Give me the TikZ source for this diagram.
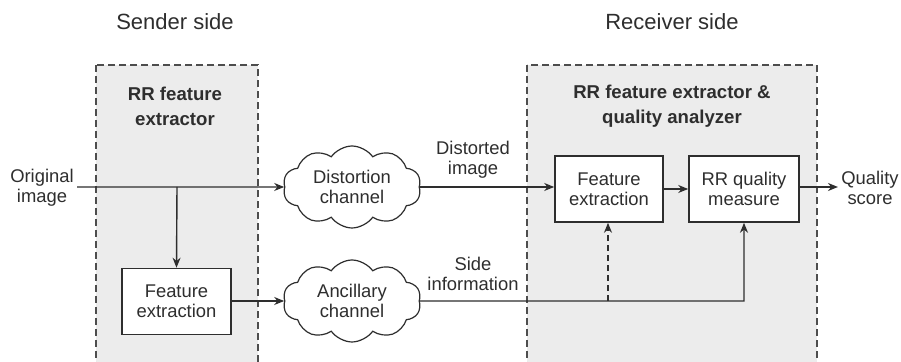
\documentclass[tikz,border=0pt]{standalone}
\usepackage{fontspec}
\setmainfont{Liberation Sans}
\usepackage{tikz}
\usetikzlibrary{arrows.meta,positioning,shapes.symbols}
\usepackage{xcolor}
\definecolor{inkgray}{HTML}{2E2E2E}
\definecolor{zonegray}{HTML}{ECECEC}

\begin{document}
\begin{tikzpicture}[x=0.5pt,y=-0.5pt,
	font=\fontsize{9.2}{10}\selectfont, color=inkgray,
	zone/.style={draw=inkgray!85,dashed,dash pattern=on 3.5pt off 2pt,fill=zonegray,line width=0.85pt},
	zonetitle/.style={align=center,font=\fontsize{9.3}{12.5}\selectfont\bfseries},
	sidetitle/.style={font=\fontsize{11}{13}\selectfont},
	block/.style={draw=inkgray,fill=white,line width=0.8pt,align=center,minimum height=33pt,inner sep=1pt},
	chan/.style={cloud,draw=inkgray,fill=white,cloud puffs=10,cloud puff arc=110,aspect=1.7,
		inner sep=0pt,minimum width=69pt,minimum height=41pt,align=center,line width=0.6pt},
	lbl/.style={align=center,inner sep=1.5pt},
	flow/.style={draw=inkgray,line width=0.7pt,-{Stealth[length=5pt,width=4pt]}}]
	\clip (0,0) rectangle (901,362);
	\fill[white] (0,0) rectangle (901,362);

	\draw[zone] (96,65) rectangle (258,380);
	\draw[zone] (527,65) rectangle (817,380);

	\node[sidetitle] (sendtitle) at (175,22) {Sender side};
	\node[sidetitle] (recvtitle) at (672,22) {Receiver side};
	\node[zonetitle] (sendzone) at (175,106) {RR feature\\extractor};
	\node[zonetitle] (recvzone) at (672,106) {RR feature extractor \&\\quality analyzer};

	\node[lbl] (orig) at (42,188) {Original\\image};
	\node[block,minimum width=54.5pt] (fesend) at (176.5,301.5) {Feature\\extraction};
	\node[chan] (dist) at (352,187) {Distortion\\channel};
	\node[chan] (anc) at (352,301) {Ancillary\\channel};
	\node[lbl] (distlbl) at (473,160) {Distorted\\image};
	\node[lbl] (sidelbl) at (473,274) {Side\\information};
	\node[block,minimum width=54pt] (ferecv) at (609,189) {Feature\\extraction};
	\node[block,minimum width=55pt] (rrq) at (744,189) {RR quality\\measure};
	\node[lbl] (score) at (870,188) {Quality\\score};

	\coordinate (split) at (177,187);
	\coordinate (tap) at (608,301);
	\coordinate (bend) at (744,301);

	\draw[flow] (orig.east |- split) -- (dist.west);
	\draw[flow] (split) -- (fesend.north);
	\draw[flow] (fesend.east |- anc.west) -- (anc.west);
	\draw[flow] (dist.east) -- (ferecv.west |- dist.east);
	\draw[flow] (ferecv.east) -- (rrq.west);
	\draw[flow] (rrq.east |- split) -- (score.west |- split);
	\draw[flow] (anc.east) -- (bend) -- (rrq.south);
	\draw[flow,dashed,dash pattern=on 3pt off 2pt] (tap) -- (ferecv.south -| tap);
\end{tikzpicture}
\end{document}
